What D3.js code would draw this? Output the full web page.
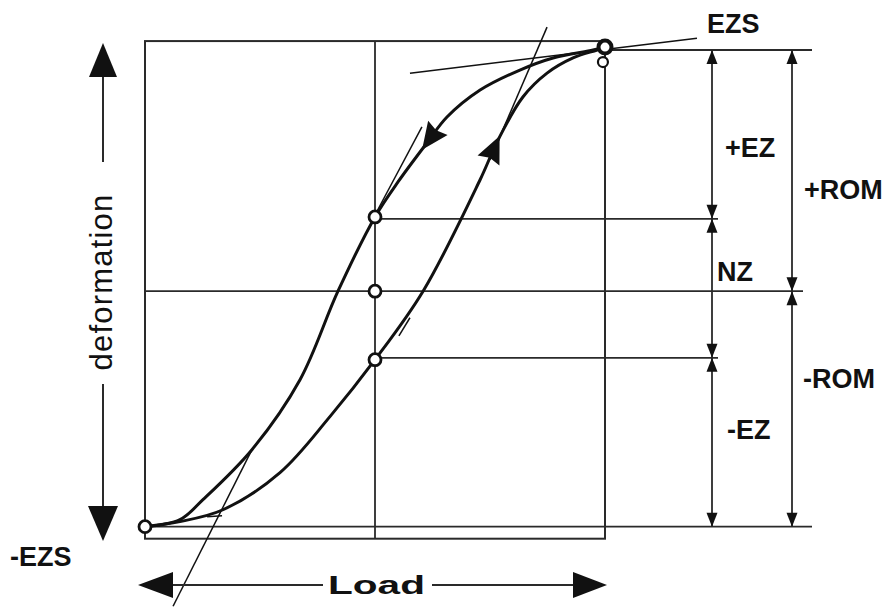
<!DOCTYPE html>
<html>
<head>
<meta charset="utf-8">
<script src="https://cdn.jsdelivr.net/npm/d3@7"></script>
<style>
  html, body { margin: 0; padding: 0; background: #fff; }
  svg { display: block; }
  text { font-family: "Liberation Sans", Arial, Helvetica, sans-serif; fill: #111; }
</style>
</head>
<body>
<svg id="chart" width="890" height="613"></svg>
<script>
// Load–deformation hysteresis of a spinal segment (load in %, deformation in % of ROM)
const loadDomain = [-100, 100];
const deformationDomain = [-98, 100];

// Loading path (from -EZS up to EZS)
const loadingCurve = [
  [-100, -97.6], [-84.8, -95.5], [-66.1, -90.6], [-41.3, -75.2], [-19.6, -52.0],
  [0, -28.4], [20.9, 0], [45.7, 46.2], [53.5, 62.7], [64.3, 80.5],
  [74.8, 90.4], [86.1, 96.7], [96.5, 100], [100, 101.2]
];

// Unloading path (from EZS back down to -EZS)
const unloadingCurve = [
  [100, 101.2], [94.8, 100], [77.4, 96.7], [63.0, 91.7], [45.7, 83.4],
  [31.3, 72.2], [22.6, 61.5], [10.0, 45.3], [0, 30.8], [-16.1, 0],
  [-32.6, -36.7], [-53.5, -65.7], [-74.8, -86.4], [-84.8, -94.7], [-100, -97.6]
];

// Construction (tangent) lines: [load1, def1, load2, def2]
const tangentLines = [
  [-87.8, -130.6, -53.5, -65.7],
  [-73.0, -93.5, -66.5, -93.1],
  [20.4, 68.1, 0, 31.6],
  [74.8, 109.5, 50.0, 54.5],
  [10.4, -18.5, 15.2, -11.0],
  [15.2, 90.4, 140, 104.9]
];

// Marked points on the curves: [load, deformation, radius, stroke]
const markedPoints = [
  [0, 30.8, 6, 2.8], [0, 0, 6, 2.8], [0, -28.4, 6, 2.8],
  [-100, -97.6, 6, 2.8], [100, 101.2, 6.5, 4], [99.1, 95.0, 5, 2.2]
];

// Direction arrows on the curves: [load, deformation, curve]
const curveArrows = [
  [24.3, 63.5, "unloading"],
  [51.3, 58.6, "loading"]
];

// Zone boundaries (deformation values)
const romUpper = 100;
const ezUpper = 30.0;
const neutral = 0;
const ezLower = -27.6;
const romLower = -97.6;
const boxTop = 103.7;
const boxBottom = -102.6;

// Zone labels
const ezColumnLabels = [
  { text: "+EZ", from: romUpper, to: ezUpper },
  { text: "NZ", from: ezUpper, to: ezLower },
  { text: "-EZ", from: ezLower, to: romLower }
];
const romColumnLabels = [
  { text: "+ROM", from: romUpper, to: neutral },
  { text: "-ROM", from: neutral, to: romLower }
];

const svg = d3.select("#chart");
const x = d3.scaleLinear().domain(loadDomain).range([145, 605]);
const y = d3.scaleLinear().domain(deformationDomain).range([527.6, 50]);

const ink = "#111";
const thin = "#2a2a2a";

// Dimension columns
const ezColX = 712;
const romColX = 792;
const extEnd = 812;

const g = svg.append("g");

// Frame
g.append("rect")
  .attr("x", x(-100)).attr("y", y(boxTop))
  .attr("width", x(100) - x(-100)).attr("height", y(boxBottom) - y(boxTop))
  .attr("fill", "none").attr("stroke", thin).attr("stroke-width", 2);

// Vertical zero-load line
g.append("line")
  .attr("x1", x(0)).attr("x2", x(0))
  .attr("y1", y(boxTop)).attr("y2", y(boxBottom))
  .attr("stroke", thin).attr("stroke-width", 1.8);

// Horizontal reference lines
const hLines = [
  [x(-100), 803, neutral],
  [x(-100), extEnd, romLower],
  [x(100), extEnd, romUpper],
  [x(0), ezColX + 6, ezUpper],
  [x(0), ezColX + 6, ezLower]
];
g.selectAll("line.h").data(hLines).join("line")
  .attr("class", "h")
  .attr("x1", d => d[0]).attr("x2", d => d[1])
  .attr("y1", d => y(d[2])).attr("y2", d => y(d[2]))
  .attr("stroke", thin).attr("stroke-width", 1.8);

// Tangent construction lines
g.selectAll("line.t").data(tangentLines).join("line")
  .attr("class", "t")
  .attr("x1", d => x(d[0])).attr("y1", d => y(d[1]))
  .attr("x2", d => x(d[2])).attr("y2", d => y(d[3]))
  .attr("stroke", ink).attr("stroke-width", 1.5);

// Curves
const line = d3.line().x(d => x(d[0])).y(d => y(d[1])).curve(d3.curveCatmullRom.alpha(0.5));
const paths = {};
paths.loading = g.append("path").datum(loadingCurve)
  .attr("d", line).attr("fill", "none").attr("stroke", ink).attr("stroke-width", 3);
paths.unloading = g.append("path").datum(unloadingCurve)
  .attr("d", line).attr("fill", "none").attr("stroke", ink).attr("stroke-width", 3);

// Direction arrowheads placed along the curves
function arrowAt(pathSel, px, py) {
  const node = pathSel.node();
  const total = node.getTotalLength();
  let best = 0, bestD = Infinity;
  for (let l = 0; l <= total; l += 1) {
    const p = node.getPointAtLength(l);
    const dd = (p.x - px) ** 2 + (p.y - py) ** 2;
    if (dd < bestD) { bestD = dd; best = l; }
  }
  const p0 = node.getPointAtLength(Math.max(0, best - 5));
  const p1 = node.getPointAtLength(Math.min(total, best + 5));
  const c = node.getPointAtLength(best);
  const ang = Math.atan2(p1.y - p0.y, p1.x - p0.x) * 180 / Math.PI;
  return { x: c.x, y: c.y, ang };
}
curveArrows.forEach(([lx, dy, which]) => {
  const a = arrowAt(paths[which], x(lx), y(dy));
  g.append("path")
    .attr("d", "M15,0 L-12,-12 L-9,0 L-12,12 Z")
    .attr("transform", `translate(${a.x},${a.y}) rotate(${a.ang})`)
    .attr("fill", ink);
});

// Marked points
g.selectAll("circle.pt").data(markedPoints).join("circle")
  .attr("class", "pt")
  .attr("cx", d => x(d[0])).attr("cy", d => y(d[1])).attr("r", d => d[2])
  .attr("fill", "#fff").attr("stroke", ink).attr("stroke-width", d => d[3]);

// Dimension arrows
function dimension(cx, from, to) {
  const y1 = y(from), y2 = y(to);
  g.append("line").attr("x1", cx).attr("x2", cx).attr("y1", y1).attr("y2", y2)
    .attr("stroke", thin).attr("stroke-width", 1.8);
  const head = (yy, dir) => `M${cx},${yy} L${cx - 5.5},${yy + dir * 14} L${cx + 5.5},${yy + dir * 14} Z`;
  g.append("path").attr("d", head(y1, 1)).attr("fill", ink);
  g.append("path").attr("d", head(y2, -1)).attr("fill", ink);
}
ezColumnLabels.forEach(d => dimension(ezColX, d.from, d.to));
romColumnLabels.forEach(d => dimension(romColX, d.from, d.to));

const bold = sel => sel.attr("font-weight", "bold").attr("font-size", 27);

const ezLabelPos = { "+EZ": [725, 157], "NZ": [717, 281], "-EZ": [727, 439] };
ezColumnLabels.forEach(d => {
  bold(g.append("text").attr("x", ezLabelPos[d.text][0]).attr("y", ezLabelPos[d.text][1]).text(d.text));
});
const romLabelPos = { "+ROM": [804, 199], "-ROM": [803, 388] };
romColumnLabels.forEach(d => {
  bold(g.append("text").attr("x", romLabelPos[d.text][0]).attr("y", romLabelPos[d.text][1]).text(d.text));
});
bold(g.append("text").attr("x", 707).attr("y", 33).text("EZS"));
bold(g.append("text").attr("x", 10).attr("y", 566).text("-EZS"));

// Axis arrows: deformation (vertical) and load (horizontal)
const vx = 103;
g.append("line").attr("x1", vx).attr("x2", vx).attr("y1", 76).attr("y2", 162)
  .attr("stroke", thin).attr("stroke-width", 2);
g.append("line").attr("x1", vx).attr("x2", vx).attr("y1", 384).attr("y2", 508)
  .attr("stroke", thin).attr("stroke-width", 2);
g.append("path").attr("d", `M${vx},43 L${vx - 14},77 L${vx + 14},77 Z`).attr("fill", ink);
g.append("path").attr("d", `M${vx},541 L${vx - 15},506 L${vx + 15},506 Z`).attr("fill", ink);
g.append("text")
  .attr("transform", `translate(112,282) rotate(-90)`)
  .attr("text-anchor", "middle").attr("font-size", 31).attr("letter-spacing", 1.2)
  .text("deformation");

const hy = 585;
g.append("line").attr("x1", 172).attr("x2", 323).attr("y1", hy).attr("y2", hy)
  .attr("stroke", thin).attr("stroke-width", 2);
g.append("line").attr("x1", 432).attr("x2", 574).attr("y1", hy).attr("y2", hy)
  .attr("stroke", thin).attr("stroke-width", 2);
g.append("path").attr("d", `M138,${hy} L173,${hy - 13} L173,${hy + 13} Z`).attr("fill", ink);
g.append("path").attr("d", `M607,${hy} L573,${hy - 13} L573,${hy + 13} Z`).attr("fill", ink);
g.append("text").attr("x", 328).attr("y", 594)
  .attr("font-size", 26).attr("font-weight", "bold")
  .attr("textLength", 97).attr("lengthAdjust", "spacingAndGlyphs")
  .text("Load");
</script>
</body>
</html>
